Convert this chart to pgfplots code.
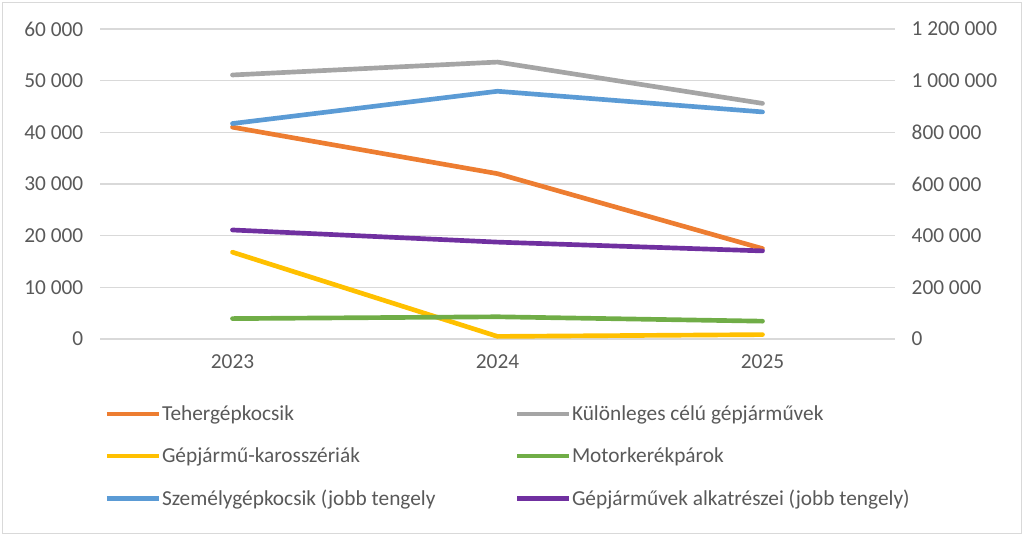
\documentclass[border=0pt]{standalone}
\usepackage{pgfplots}
\pgfplotsset{compat=1.18}
\usepackage{fontspec}
\setmainfont{Carlito}
\definecolor{txt}{HTML}{595959}
\definecolor{gridc}{HTML}{D9D9D9}
\definecolor{cOrange}{HTML}{ED7D31}
\definecolor{cGray}{HTML}{A5A5A5}
\definecolor{cYellow}{HTML}{FFC000}
\definecolor{cGreen}{HTML}{70AD47}
\definecolor{cBlue}{HTML}{5B9BD5}
\definecolor{cPurple}{HTML}{7030A0}
\pgfplotsset{
  common/.style={
    at={(75pt,147.75pt)}, anchor=south west,
    width=596.25pt, height=232.5pt, scale only axis,
    xmin=-0.5, xmax=2.5, ymin=0,
    xtick={0,1,2}, xticklabels={2023,2024,2025},
    major tick length=0pt,
    tick label style={font=\fontsize{16}{19}\selectfont, color=txt},
    scaled y ticks=false,
    /pgf/number format/.cd, fixed, 1000 sep={\ }, assume math mode=true,
  },
  every axis plot/.append style={line width=3.5pt, line cap=round, line join=round},
}
\begin{document}
\begin{tikzpicture}
\path[use as bounding box] (0,0) rectangle (768pt,402pt);
\draw[gridc, line width=0.8pt] (2pt,2pt) rectangle (766pt,400pt);
\begin{axis}[common,
  ymax=60000, ytick={0,10000,...,60000},
  ymajorgrids, grid style={gridc, line width=1.1pt},
  axis line style={draw=none},
  yticklabel style={xshift=-9pt},
  xticklabel style={yshift=-8pt},
  legend columns=2,
  legend cell align=left,
  legend image code/.code={\draw[#1, line width=3.5pt, line cap=butt] (0pt,0pt) -- (39pt,0pt);},
  legend style={at={(0.0005,-0.203)}, anchor=north west, draw=none, fill=none,
    font=\fontsize{16}{19}\selectfont, text=txt,
    row sep=18pt,
    nodes={inner sep=0.5pt},
    /tikz/every even column/.append style={column sep=0pt}},
]
\addplot[cOrange] coordinates {(0,41000) (1,32000) (2,17500)};
\addlegendentry{\makebox[264pt][l]{Tehergépkocsik}}
\addplot[cGray] coordinates {(0,51100) (1,53600) (2,45600)};
\addlegendentry{Különleges célú gépjárművek}
\addplot[cYellow] coordinates {(0,16800) (1,500) (2,850)};
\addlegendentry{\makebox[264pt][l]{Gépjármű-karosszériák}}
\addplot[cGreen] coordinates {(0,3950) (1,4300) (2,3450)};
\addlegendentry{Motorkerékpárok}
\addlegendimage{cBlue}
\addlegendentry{\makebox[264pt][l]{Személygépkocsik (jobb tengely}}
\addlegendimage{cPurple}
\addlegendentry{Gépjárművek alkatrészei (jobb tengely)}
\end{axis}
\begin{axis}[common,
  ymax=1200000, ytick={0,200000,...,1200000},
  axis y line*=right, axis x line=none,
  axis line style={draw=none},
  yticklabel style={xshift=9pt},
]
\addplot[cBlue] coordinates {(0,834000) (1,959000) (2,879000)};
\addplot[cPurple] coordinates {(0,422000) (1,375000) (2,341000)};
\end{axis}
\end{tikzpicture}
\end{document}
